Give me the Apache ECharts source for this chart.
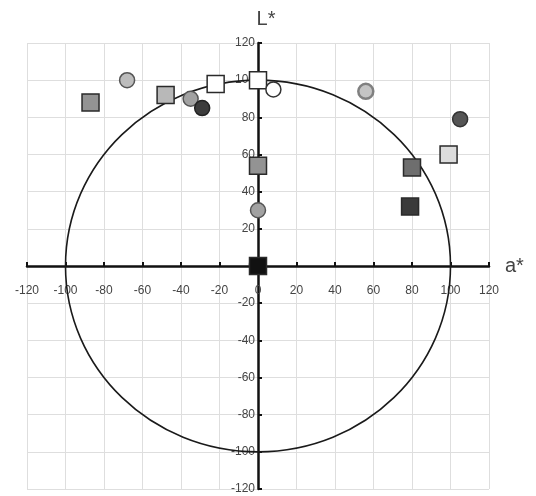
<!DOCTYPE html>
<html>
<head>
<meta charset="utf-8">
<script src="https://cdn.jsdelivr.net/npm/echarts@6/dist/echarts.min.js"></script>
<style>html,body{margin:0;padding:0;background:#fff}#c{width:536px;height:496px}</style>
</head>
<body>
<div id="c"></div>
<script>
// ---- data (a*, L*) ----
const axisTicks = [-120, -100, -80, -60, -40, -20, 0, 20, 40, 60, 80, 100, 120];
const refCircleRadius = [100];

const whiteSquares = [[-22, 98], [0, 100]];
const lightSquares = [[-48, 92]];
const paleSquares = [[99, 60]];
const graySquares = [[-87, 88], [0, 54]];
const midSquares = [[80, 53]];
const darkSquares = [[79, 32]];
const blackSquares = [[0, 0]];

const whiteCircles = [[8, 95]];
const lightCircles = [[-68, 100]];
const grayCircles = [[-35, 90], [0, 30]];
const hatchCircles = [[56, 94]];
const darkCircles = [[-29, 85]];
const deepCircles = [[105, 79]];

const FONT = 'Liberation Sans';
const GRID = { left: 27, right: 47, top: 43, bottom: 7 };
const W = 536, H = 496;
const gridW = W - GRID.left - GRID.right;
const gridH = H - GRID.top - GRID.bottom;

function sq(name, data, fill) {
  return { name, type: 'scatter', data, symbol: 'rect', symbolSize: 17, z: 5,
    itemStyle: { color: fill, borderColor: '#2a2a2a', borderWidth: 1.5, opacity: 1 } };
}
function ci(name, data, fill, border, bw) {
  return { name, type: 'scatter', data, symbol: 'circle', symbolSize: 15, z: 5,
    itemStyle: { color: fill, borderColor: border || '#333', borderWidth: bw || 1.5, opacity: 1 } };
}

const chart = echarts.init(document.getElementById('c'), null, { renderer: 'canvas' });
const axisCommon = {
  type: 'value', min: axisTicks[0], max: axisTicks[axisTicks.length - 1], interval: 20,
  axisLine: { onZero: false, lineStyle: { color: '#111', width: 2.5 } },
  axisTick: { show: true, inside: true, length: 4, lineStyle: { color: '#111', width: 2 } },
  splitLine: { show: true, lineStyle: { color: '#dedede', width: 1 } }
};
chart.setOption({
  animation: false,
  backgroundColor: '#fff',
  grid: Object.assign({ containLabel: false }, GRID),
  xAxis: Object.assign({}, axisCommon, {
    position: 'bottom', offset: -gridH / 2,
    name: 'a*', nameLocation: 'end', nameGap: 16,
    nameTextStyle: { fontFamily: FONT, fontSize: 20, color: '#444', verticalAlign: 'middle', padding: [6, 0, 0, 0] },
    axisLabel: { margin: 19, fontFamily: FONT, fontSize: 12, color: '#444' }
  }),
  yAxis: Object.assign({}, axisCommon, {
    position: 'left', offset: -gridW / 2,
    name: 'L*', nameLocation: 'end', nameGap: 14,
    nameTextStyle: { fontFamily: FONT, fontSize: 20, color: '#444', padding: [0, 0, 0, 16] },
    axisLabel: { margin: 3, fontFamily: FONT, fontSize: 12, color: '#444' }
  }),
  series: [
    {
      type: 'custom', name: 'circle', silent: true, clip: false, z: 3,
      data: refCircleRadius.map(r => [0, 0, r]),
      encode: { x: 0, y: 1 },
      renderItem: function (params, api) {
        const c = api.coord([api.value(0), api.value(1)]);
        const r = api.value(2);
        const e = api.coord([r, r]);
        return { type: 'ellipse',
          shape: { cx: c[0], cy: c[1], rx: e[0] - c[0], ry: c[1] - e[1] },
          style: { fill: 'none', stroke: '#1a1a1a', lineWidth: 1.6 } };
      }
    },
    sq('white squares', whiteSquares, '#ffffff'),
    sq('light squares', lightSquares, '#b8b8b8'),
    sq('pale squares', paleSquares, '#dcdcdc'),
    sq('gray squares', graySquares, '#939393'),
    sq('mid squares', midSquares, '#6e6e6e'),
    sq('dark squares', darkSquares, '#3a3a3a'),
    sq('black squares', blackSquares, '#111111'),
    ci('white circles', whiteCircles, '#ffffff', '#333'),
    ci('light circles', lightCircles, '#bdbdbd', '#555'),
    ci('gray circles', grayCircles, '#a2a2a2', '#555'),
    ci('hatch circles', hatchCircles, '#c4c4c4', '#808080', 2.5),
    ci('dark circles', darkCircles, '#3c3c3c', '#222'),
    ci('deep circles', deepCircles, '#555555', '#333')
  ]
});
</script>
</body>
</html>
